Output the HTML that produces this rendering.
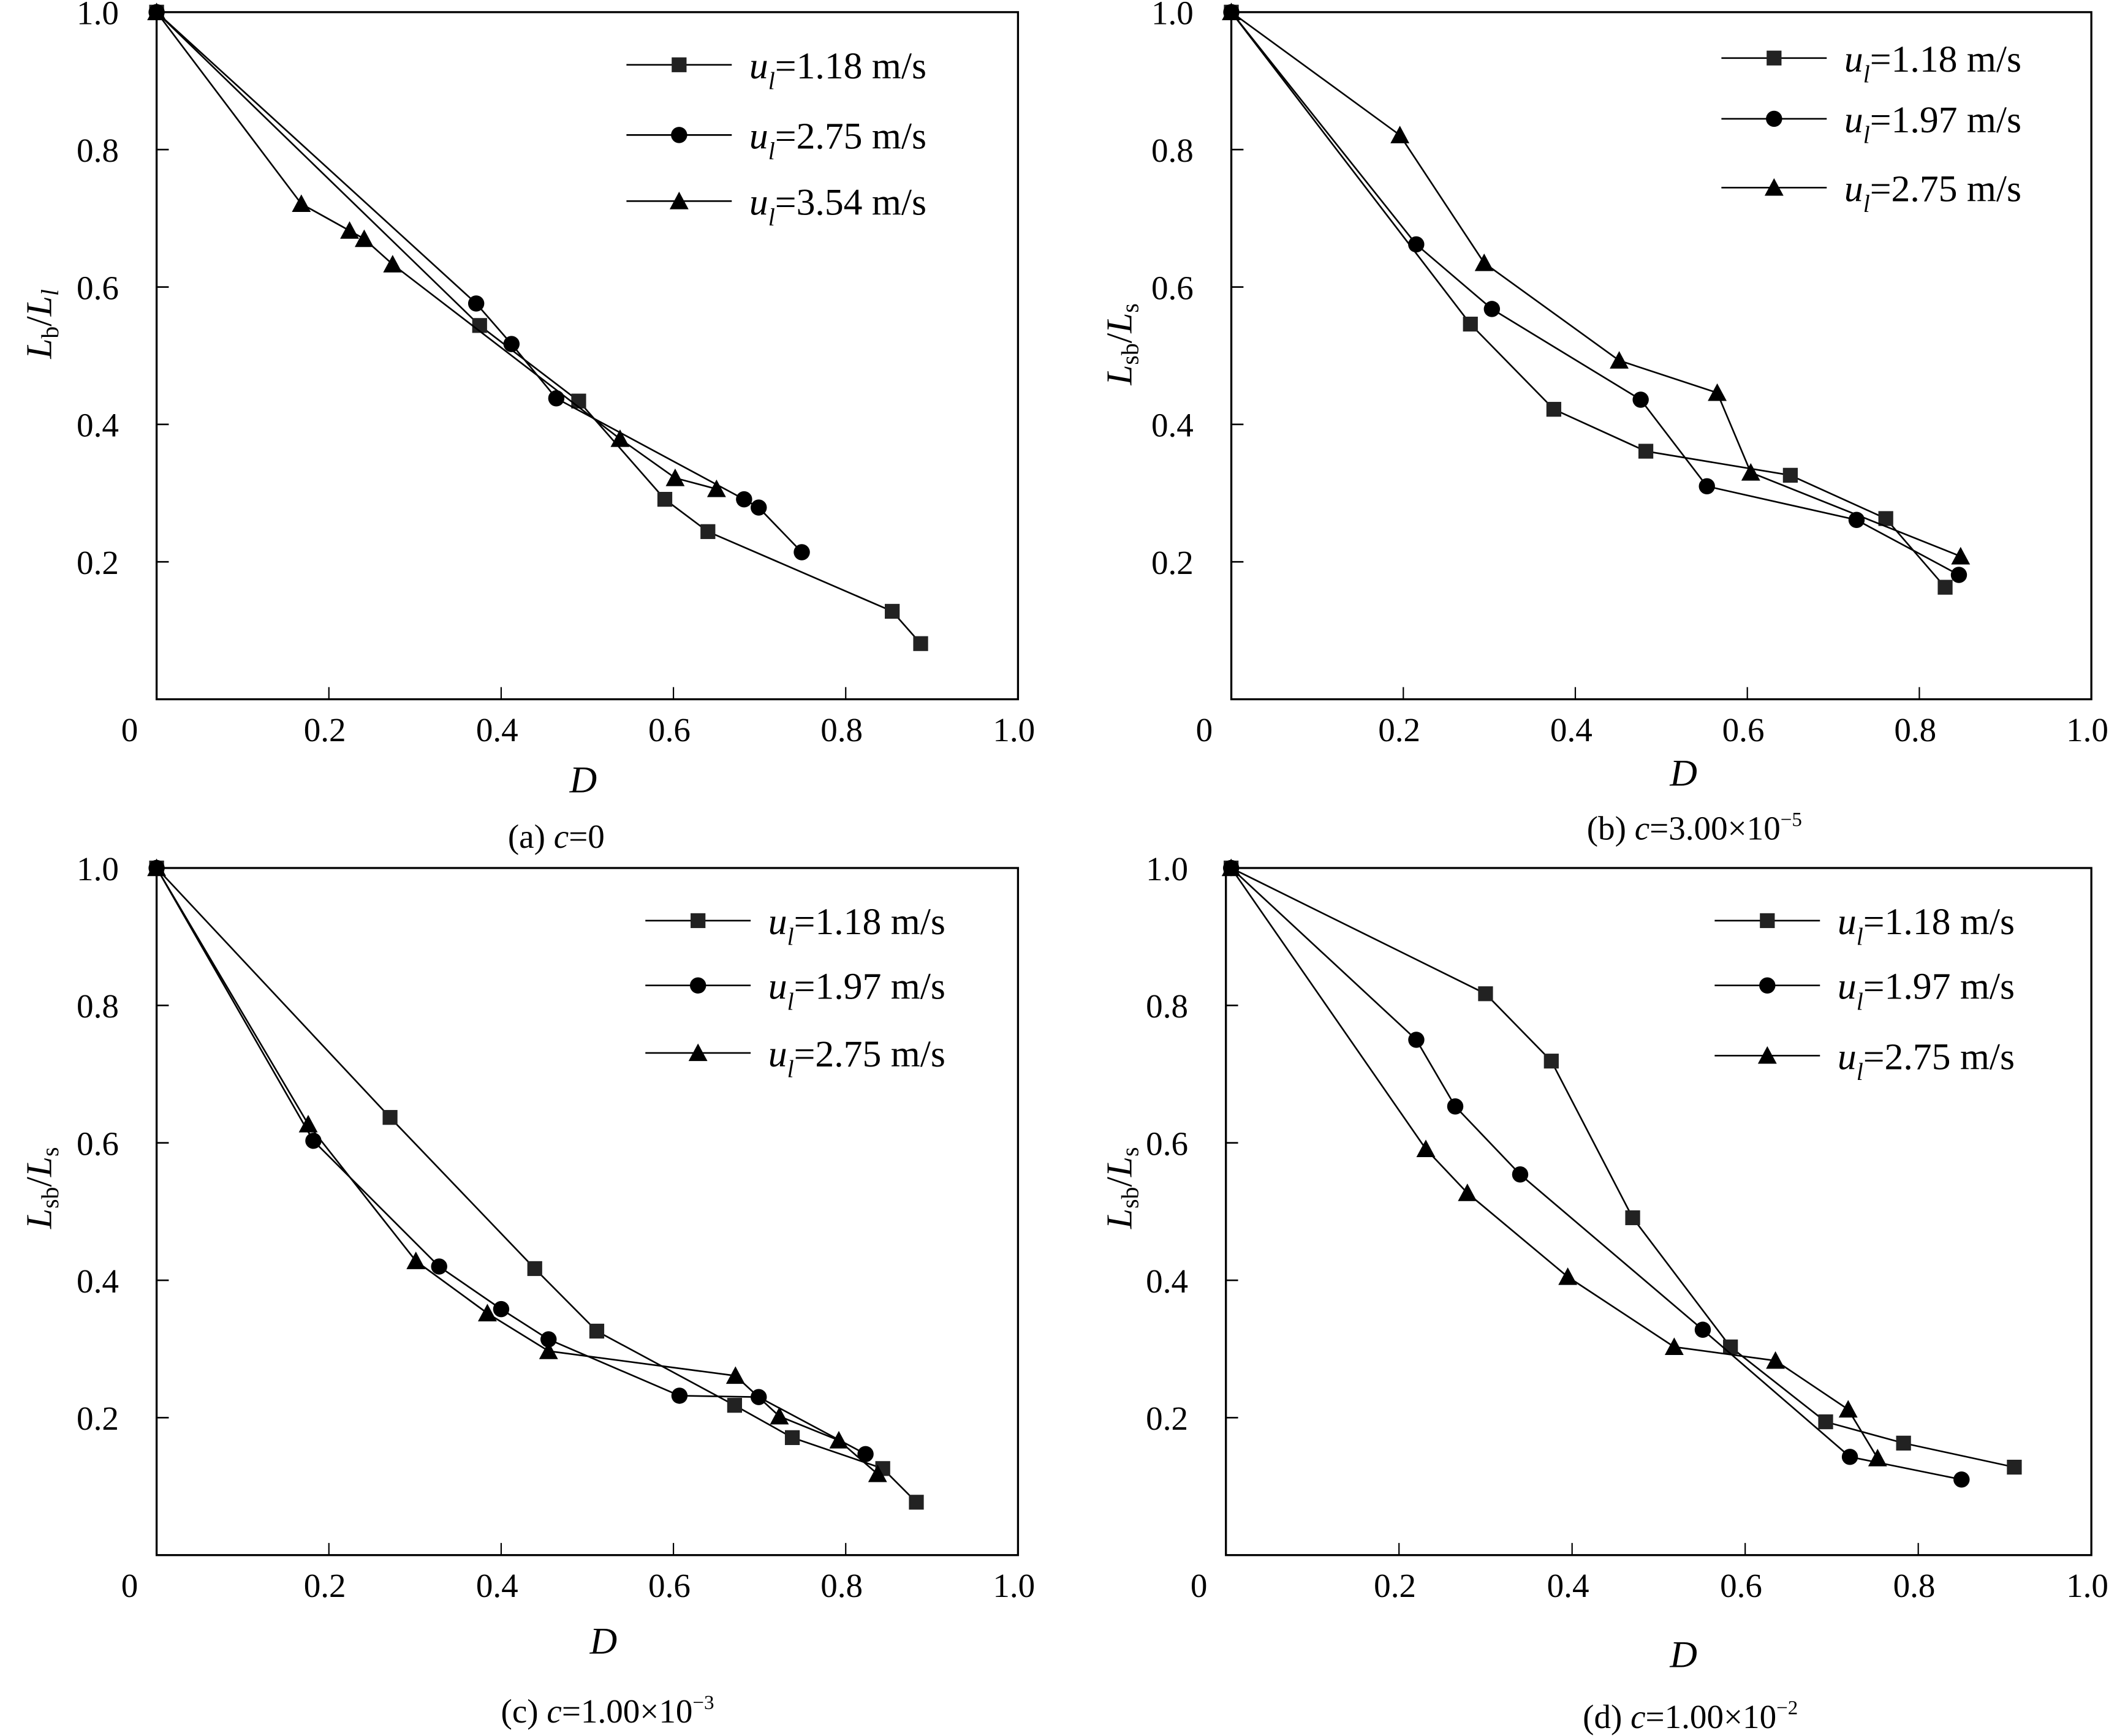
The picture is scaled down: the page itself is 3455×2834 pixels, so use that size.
<!DOCTYPE html>
<html><head><meta charset="utf-8"><style>
html,body{margin:0;padding:0;background:#fff}
svg{display:block}
text{font-family:"Liberation Serif","Times New Roman",serif;fill:#000}
</style></head><body>
<svg id="chart" width="3455" height="2834" viewBox="0 0 1568 1286" preserveAspectRatio="none" xmlns="http://www.w3.org/2000/svg"></svg>
<script>
// Panel (a)
const aSqX=[0,0.375,0.49,0.59,0.64,0.854,0.887];
const aSqY=[1.0,0.544,0.434,0.291,0.244,0.128,0.081];
const aCiX=[0,0.371,0.412,0.464,0.682,0.699,0.749];
const aCiY=[1.0,0.576,0.517,0.438,0.291,0.279,0.214];
const aTrX=[0,0.168,0.224,0.241,0.274,0.538,0.602,0.650];
const aTrY=[1.0,0.721,0.682,0.670,0.633,0.379,0.322,0.306];
// Panel (b)
const bSqX=[0,0.278,0.375,0.482,0.650,0.761,0.830];
const bSqY=[1.0,0.546,0.422,0.361,0.326,0.263,0.163];
const bCiX=[0,0.215,0.303,0.476,0.553,0.727,0.846];
const bCiY=[1.0,0.662,0.568,0.436,0.310,0.261,0.181];
const bTrX=[0,0.196,0.294,0.451,0.565,0.604,0.848];
const bTrY=[1.0,0.821,0.635,0.493,0.446,0.330,0.208];
// Panel (c)
const cSqX=[0,0.271,0.439,0.511,0.671,0.738,0.843,0.882];
const cSqY=[1.0,0.637,0.417,0.326,0.218,0.171,0.126,0.077];
const cCiX=[0,0.182,0.328,0.400,0.455,0.607,0.699,0.823];
const cCiY=[1.0,0.603,0.420,0.358,0.314,0.232,0.230,0.147];
const cTrX=[0,0.176,0.301,0.384,0.455,0.672,0.723,0.792,0.837];
const cTrY=[1.0,0.627,0.428,0.352,0.297,0.261,0.202,0.167,0.118];
// Panel (d)
const dSqX=[0.006,0.300,0.376,0.470,0.583,0.693,0.783,0.911];
const dSqY=[1.0,0.817,0.719,0.491,0.303,0.194,0.163,0.128];
const dCiX=[0.006,0.220,0.265,0.340,0.551,0.721,0.850];
const dCiY=[1.0,0.750,0.653,0.554,0.328,0.143,0.110];
const dTrX=[0.006,0.231,0.279,0.395,0.518,0.635,0.719,0.753];
const dTrY=[1.0,0.591,0.527,0.405,0.303,0.283,0.212,0.141];
const tickVals=[0.2,0.4,0.6,0.8,1.0];
const tickLabels=["0.2","0.4","0.6","0.8","1.0"];

const NS="http://www.w3.org/2000/svg";
const svg=document.getElementById('chart');
function mk(tag,attrs,parent,txt){const e=document.createElementNS(NS,tag);for(const k in attrs)e.setAttribute(k,attrs[k]);if(txt!==undefined)e.textContent=txt;(parent||svg).appendChild(e);return e;}

function marker(g,type,x,y){
  let m;
  if(type==='sq'){m=mk('rect',{x:x-5.5,y:y-5.5,width:11,height:11,fill:'#222'},g);}
  else if(type==='ci'){m=mk('circle',{cx:x,cy:y,r:6,fill:'#000'},g);}
  else {m=mk('polygon',{points:`${x},${y-7} ${x-7},${y+6} ${x+7},${y+6}`,fill:'#000'},g);}
  
  
}

function panel(p){
  const g=mk('g',{});
  
  
  const sx=v=>p.x0+v*(p.x1-p.x0);
  const sy=v=>p.y1-v*(p.y1-p.y0);
  const box=mk('rect',{x:p.x0,y:p.y0,width:p.x1-p.x0,height:p.y1-p.y0,fill:'none',stroke:'#000','stroke-width':1.5},g);
  
  
  tickVals.forEach((v,i)=>{
    if(v<1){
      const t1=mk('line',{x1:sx(v),x2:sx(v),y1:p.y1,y2:p.y1-9,stroke:'#000','stroke-width':1},g);
      
      
      const t2=mk('line',{x1:p.x0,x2:p.x0+9,y1:sy(v),y2:sy(v),stroke:'#000','stroke-width':1.2},g);
      
      
    }
    const xl=mk('text',{x:sx(v)-3,y:p.y1+31,'font-size':25,'text-anchor':'middle'},g,tickLabels[i]);
    
    
    const yl=mk('text',{x:p.x0-28,y:sy(v)+9,'font-size':25,'text-anchor':'end'},g,tickLabels[i]);
    
    
  });
  const z=mk('text',{x:p.x0-20,y:p.y1+31,'font-size':25,'text-anchor':'middle'},g,'0');
  
  
  const xt=mk('text',{x:p.xlab[0],y:p.xlab[1],'font-size':28,'font-style':'italic','text-anchor':'middle'},g,'D');
  
  
  const yt=mk('text',{x:0,y:0,'font-size':27,'text-anchor':'middle',transform:`translate(${p.ylab[0]},${p.ylab[1]}) rotate(-90)`},g);
  
  
  yt.innerHTML=p.ytitle;
  const cap=mk('text',{x:p.cap[0],y:p.cap[1],'font-size':25,'text-anchor':'middle'},g);
  
  
  cap.innerHTML=p.caption;
  const types=['sq','ci','tr'];
  p.series.forEach((s,k)=>{
    const pts=s[0].map((x,i)=>sx(x)+','+sy(s[1][i])).join(' ');
    const pl=mk('polyline',{points:pts,fill:'none',stroke:'#000','stroke-width':1.2},g);
    
    
    s[0].forEach((x,i)=>marker(g,types[k],sx(x),sy(s[1][i])));
    const ly=p.leg.ys[k];
    const lg=mk('g',{},g);
    
    
    mk('line',{x1:p.leg.x,x2:p.leg.x+78,y1:ly,y2:ly,stroke:'#000','stroke-width':1.2},lg);
    marker(lg,types[k],p.leg.x+39,ly);
    const lt=mk('text',{x:p.leg.x+91,y:ly+10,'font-size':28},lg);
    lt.innerHTML=`<tspan font-style="italic">u</tspan><tspan font-style="italic" font-size="18" dy="8">l</tspan><tspan dy="-8">=${p.leg.labels[k]} m/s</tspan>`;
  });
}
const Ls='<tspan font-style="italic">L</tspan><tspan font-size="18" dy="5">sb</tspan><tspan dy="-5">/</tspan><tspan font-style="italic">L</tspan><tspan font-size="18" dy="5">s</tspan>';
panel({id:'a',x0:116,x1:754,y0:9,y1:518,xlab:[432,587],ylab:[38,240],cap:[412,628],
  ytitle:'<tspan font-style="italic">L</tspan><tspan font-size="18" dy="5">b</tspan><tspan dy="-5">/</tspan><tspan font-style="italic">L</tspan><tspan font-size="18" font-style="italic" dy="5">l</tspan>',
  caption:'(a) <tspan font-style="italic">c</tspan>=0',
  series:[[aSqX,aSqY],[aCiX,aCiY],[aTrX,aTrY]],
  leg:{x:464,ys:[48,100,149],labels:['1.18','2.75','3.54']}});
panel({id:'b',x0:912,x1:1549,y0:9,y1:518,xlab:[1247,582],ylab:[838,255],cap:[1255,622],
  ytitle:Ls,caption:'(b) <tspan font-style="italic">c</tspan>=3.00×10<tspan font-size="15" dy="-10">−5</tspan>',
  series:[[bSqX,bSqY],[bCiX,bCiY],[bTrX,bTrY]],
  leg:{x:1275,ys:[43,88,139],labels:['1.18','1.97','2.75']}});
panel({id:'c',x0:116,x1:754,y0:643,y1:1152,xlab:[447,1225],ylab:[38,880],cap:[450,1276],
  ytitle:Ls,caption:'(c) <tspan font-style="italic">c</tspan>=1.00×10<tspan font-size="15" dy="-10">−3</tspan>',
  series:[[cSqX,cSqY],[cCiX,cCiY],[cTrX,cTrY]],
  leg:{x:478,ys:[682,730,780],labels:['1.18','1.97','2.75']}});
panel({id:'d',x0:908,x1:1549,y0:643,y1:1152,xlab:[1247,1235],ylab:[838,880],cap:[1252,1280],
  ytitle:Ls,caption:'(d) <tspan font-style="italic">c</tspan>=1.00×10<tspan font-size="15" dy="-10">−2</tspan>',
  series:[[dSqX,dSqY],[dCiX,dCiY],[dTrX,dTrY]],
  leg:{x:1270,ys:[682,730,782],labels:['1.18','1.97','2.75']}});
</script>
</body></html>
